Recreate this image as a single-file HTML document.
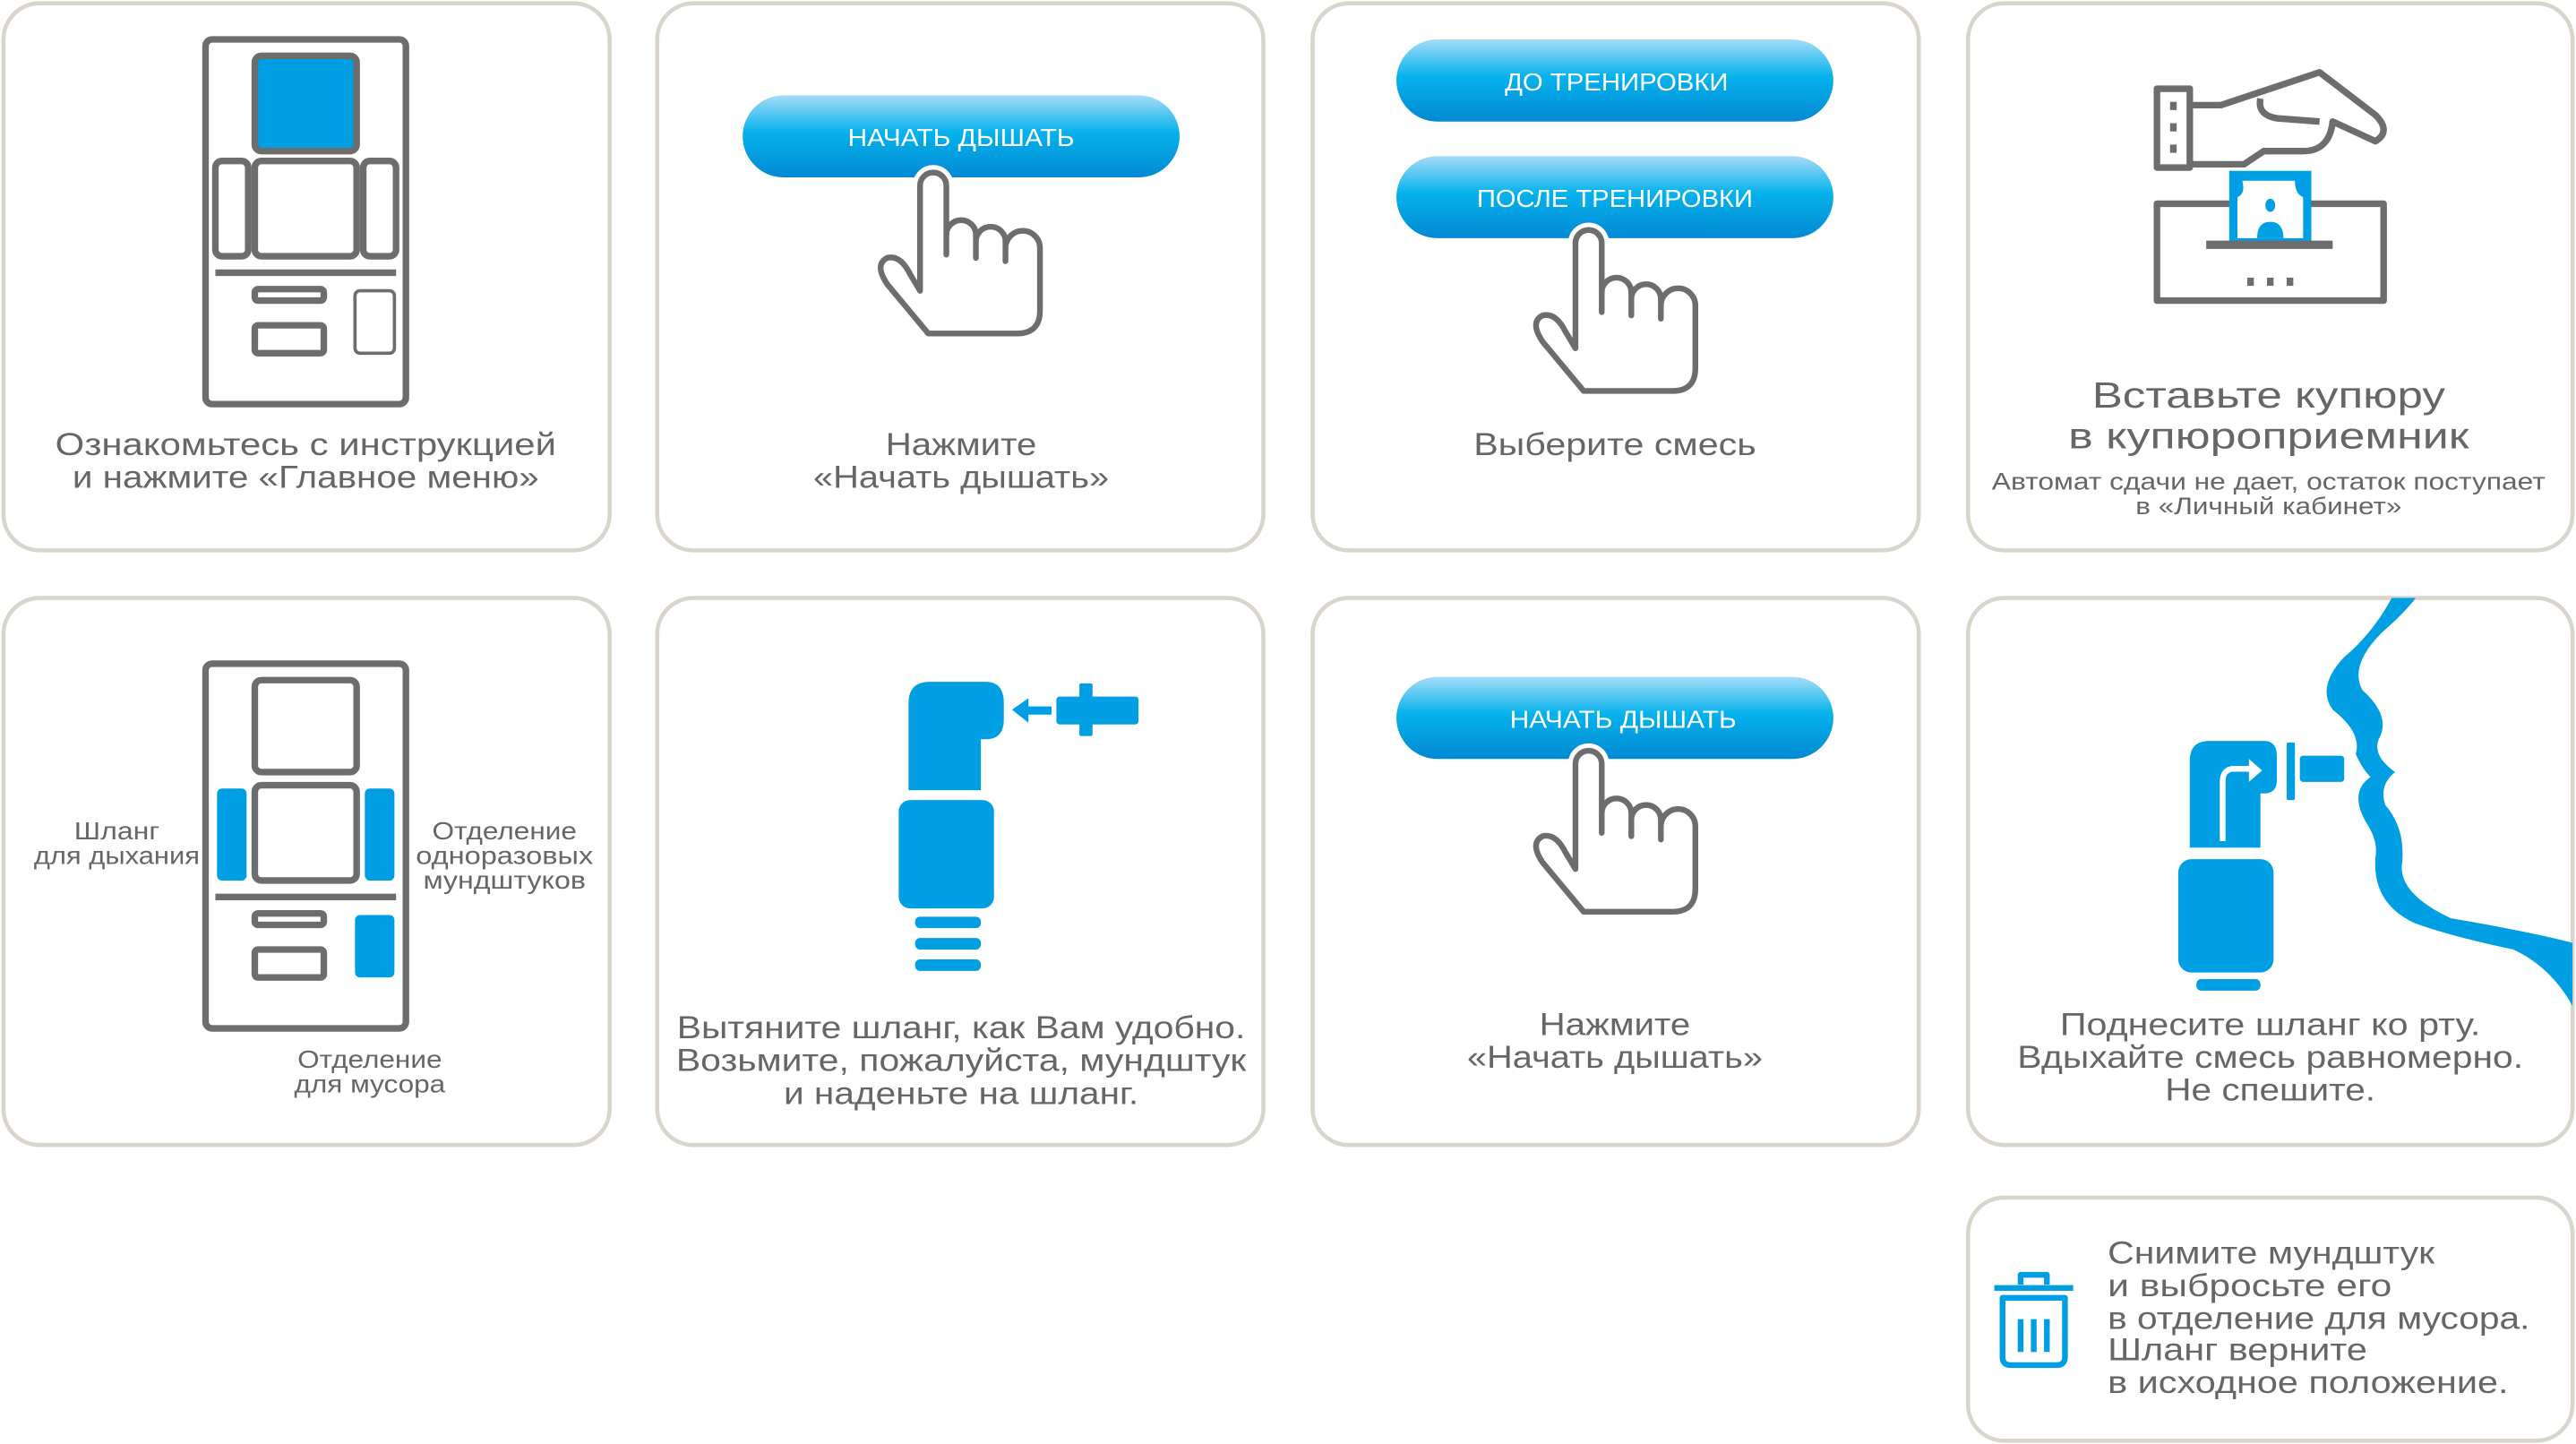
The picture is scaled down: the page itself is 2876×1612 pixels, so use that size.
<!DOCTYPE html>
<html><head><meta charset="utf-8"><style>html,body{margin:0;padding:0;background:#fff}svg{display:block}</style></head>
<body>
<svg xmlns="http://www.w3.org/2000/svg" width="2876" height="1612" viewBox="0 0 1568 879" font-family="Liberation Sans, sans-serif">
<defs>
<linearGradient id="bg" x1="0" y1="0" x2="0" y2="1">
<stop offset="0" stop-color="#a6dcf7"/><stop offset="0.45" stop-color="#05b2ec"/><stop offset="1" stop-color="#0289d3"/>
</linearGradient>
<clipPath id="c8"><rect x="1198" y="364" width="368" height="333" rx="22"/></clipPath>
<g id="hand">
<path d="M -8,72 L -8,8 A8 8 0 0 1 8,8 L 8,50 L 8,38 A9 9 0 0 1 26,38 L 26,52 L 26,42 A9 9 0 0 1 44,42 L 44,54 L 44,46 A10.5 10.5 0 0 1 65,46 L 65,84 Q65,98 51,98 L -3,98 L -28,68 Q -36,56 -28,52 Q -20,50 -14,62 Z" fill="#fff" stroke="#fff" stroke-width="9" stroke-linejoin="round"/>
<path d="M -8,72 L -8,8 A8 8 0 0 1 8,8 L 8,50 L 8,38 A9 9 0 0 1 26,38 L 26,52 L 26,42 A9 9 0 0 1 44,42 L 44,54 L 44,46 A10.5 10.5 0 0 1 65,46 L 65,84 Q65,98 51,98 L -3,98 L -28,68 Q -36,56 -28,52 Q -20,50 -14,62 Z" fill="#fff" stroke="#6d6d6d" stroke-width="3.5" stroke-linejoin="round"/>
</g>
</defs>
<g fill="#fff" stroke="#d9d5cc" stroke-width="2.5">
<rect x="2" y="2" width="369" height="333" rx="22"/>
<rect x="400" y="2" width="369" height="333" rx="22"/>
<rect x="799" y="2" width="369" height="333" rx="22"/>
<rect x="1198" y="2" width="368" height="333" rx="22"/>
<rect x="2" y="364" width="369" height="333" rx="22"/>
<rect x="400" y="364" width="369" height="333" rx="22"/>
<rect x="799" y="364" width="369" height="333" rx="22"/>
<rect x="1198" y="364" width="368" height="333" rx="22"/>
<rect x="1198" y="729" width="368" height="148" rx="22"/>
</g>

<!-- card1 kiosk -->
<g fill="none" stroke="#6d6d6d" stroke-width="4">
<rect x="125" y="24" width="122" height="222" rx="4"/>
<rect x="155" y="34" width="62" height="58" rx="4" fill="#009fe3"/>
<rect x="131" y="98" width="20" height="58" rx="4"/>
<rect x="155" y="98" width="62" height="58" rx="4"/>
<rect x="221" y="98" width="20" height="58" rx="4"/>
<line x1="131" y1="166" x2="241" y2="166"/>
<rect x="155" y="176" width="42" height="7" rx="2"/>
<rect x="155" y="198" width="42" height="17" rx="2"/>
<rect x="216" y="177" width="24" height="38" rx="3" stroke-width="2"/>
</g>
<g fill="#666" font-size="19" text-anchor="middle">
<text x="186" y="277" textLength="305" lengthAdjust="spacingAndGlyphs">Ознакомьтесь с инструкцией</text>
<text x="186" y="297" textLength="284" lengthAdjust="spacingAndGlyphs">и нажмите «Главное меню»</text>
</g>

<!-- card2 -->
<rect x="452" y="58" width="266" height="50" rx="25" fill="url(#bg)"/>
<text x="585" y="89" fill="#fff" font-size="15" text-anchor="middle" textLength="138" lengthAdjust="spacingAndGlyphs">НАЧАТЬ ДЫШАТЬ</text>
<use href="#hand" x="568" y="105"/>
<g fill="#666" font-size="19" text-anchor="middle">
<text x="585" y="277" textLength="92" lengthAdjust="spacingAndGlyphs">Нажмите</text>
<text x="585" y="297" textLength="180" lengthAdjust="spacingAndGlyphs">«Начать дышать»</text>
</g>

<!-- card3 -->
<rect x="850" y="24" width="266" height="50" rx="25" fill="url(#bg)"/>
<text x="984" y="55" fill="#fff" font-size="15" text-anchor="middle" textLength="136" lengthAdjust="spacingAndGlyphs">ДО ТРЕНИРОВКИ</text>
<rect x="850" y="95" width="266" height="50" rx="25" fill="url(#bg)"/>
<text x="983" y="126" fill="#fff" font-size="15" text-anchor="middle" textLength="168" lengthAdjust="spacingAndGlyphs">ПОСЛЕ ТРЕНИРОВКИ</text>
<use href="#hand" x="967" y="140"/>
<text x="983" y="277" fill="#666" font-size="19" text-anchor="middle" textLength="172" lengthAdjust="spacingAndGlyphs">Выберите смесь</text>

<!-- card4 -->
<g fill="none" stroke="#6d6d6d" stroke-width="4" stroke-linejoin="round">
<rect x="1313" y="54" width="20" height="48"/>
<path d="M1333,64 L1352,64 L1412,44 L1446,70 Q1456,80 1446,86 L1420,74 Q1418,92 1402,92 L1378,92 L1366,100 L1333,100"/>
<path d="M1376,60 Q1374,70 1386,72 L1412,74"/>
<rect x="1313" y="124" width="138" height="59"/>
</g>
<g fill="#6d6d6d"><rect x="1321" y="62" width="4" height="5"/><rect x="1321" y="75" width="4" height="5"/><rect x="1321" y="88" width="4" height="5"/></g>
<rect x="1357" y="104" width="50" height="45" fill="#009fe3"/>
<path d="M1365,110 L1397,110 Q1397,118 1402,120 L1402,145 L1362,145 L1362,120 Q1367,118 1365,110Z" fill="#fff"/>
<ellipse cx="1382" cy="125" rx="3" ry="4" fill="#009fe3"/>
<path d="M1374,145 Q1374,135 1382,135 Q1390,135 1390,145Z" fill="#009fe3"/>
<line x1="1343" y1="149" x2="1420" y2="149" stroke="#6d6d6d" stroke-width="5"/>
<g fill="#6d6d6d"><rect x="1368" y="169" width="4" height="5"/><rect x="1380" y="169" width="4" height="5"/><rect x="1392" y="169" width="4" height="5"/></g>
<g fill="#666" text-anchor="middle">
<text x="1381" y="248" font-size="22" textLength="215" lengthAdjust="spacingAndGlyphs">Вставьте купюру</text>
<text x="1381" y="273" font-size="22" textLength="244" lengthAdjust="spacingAndGlyphs">в купюроприемник</text>
<text x="1381" y="298" font-size="14.5" textLength="337" lengthAdjust="spacingAndGlyphs">Автомат сдачи не дает, остаток поступает</text>
<text x="1381" y="313" font-size="14.5" textLength="162" lengthAdjust="spacingAndGlyphs">в «Личный кабинет»</text>
</g>

<!-- card5 kiosk -->
<g fill="none" stroke="#6d6d6d" stroke-width="4">
<rect x="125" y="404" width="122" height="222" rx="4"/>
<rect x="155" y="414" width="62" height="56" rx="4"/>
<rect x="155" y="478" width="62" height="58" rx="4"/>
<line x1="131" y1="546" x2="241" y2="546"/>
<rect x="155" y="556" width="42" height="7" rx="2"/>
<rect x="155" y="578" width="42" height="17" rx="2"/>
</g>
<g fill="#009fe3">
<rect x="132" y="480" width="18" height="56" rx="3"/>
<rect x="222" y="480" width="18" height="56" rx="3"/>
<rect x="216" y="557" width="24" height="38" rx="3"/>
</g>
<g fill="#666" font-size="15" text-anchor="middle">
<text x="71" y="511" textLength="52" lengthAdjust="spacingAndGlyphs">Шланг</text>
<text x="71" y="526" textLength="101" lengthAdjust="spacingAndGlyphs">для дыхания</text>
<text x="307" y="511" textLength="88" lengthAdjust="spacingAndGlyphs">Отделение</text>
<text x="307" y="526" textLength="108" lengthAdjust="spacingAndGlyphs">одноразовых</text>
<text x="307" y="541" textLength="99" lengthAdjust="spacingAndGlyphs">мундштуков</text>
<text x="225" y="650" textLength="88" lengthAdjust="spacingAndGlyphs">Отделение</text>
<text x="225" y="665" textLength="92" lengthAdjust="spacingAndGlyphs">для мусора</text>
</g>

<!-- card6 hose -->
<g fill="#009fe3">
<path d="M553,428 Q553,415 566,415 L600,415 Q611,415 611,428 L611,438 Q611,450 600,450 L597,450 L597,481 L553,481Z"/>
<rect x="547" y="487" width="58" height="66" rx="7"/>
<rect x="557" y="558" width="40" height="7" rx="3"/>
<rect x="557" y="571" width="40" height="7" rx="3"/>
<rect x="557" y="584" width="40" height="7" rx="3"/>
<path d="M616,432 L626,425 L626,430 L640,430 L640,435 L626,435 L626,440Z"/>
<rect x="643" y="424" width="50" height="17" rx="2"/>
<rect x="657" y="416" width="8" height="32" rx="1"/>
</g>
<g fill="#666" font-size="19" text-anchor="middle">
<text x="585" y="632" textLength="346" lengthAdjust="spacingAndGlyphs">Вытяните шланг, как Вам удобно.</text>
<text x="585" y="652" textLength="347" lengthAdjust="spacingAndGlyphs">Возьмите, пожалуйста, мундштук</text>
<text x="585" y="672" textLength="216" lengthAdjust="spacingAndGlyphs">и наденьте на шланг.</text>
</g>

<!-- card7 -->
<rect x="850" y="412" width="266" height="50" rx="25" fill="url(#bg)"/>
<text x="988" y="443" fill="#fff" font-size="15" text-anchor="middle" textLength="138" lengthAdjust="spacingAndGlyphs">НАЧАТЬ ДЫШАТЬ</text>
<use href="#hand" x="967" y="457"/>
<g fill="#666" font-size="19" text-anchor="middle">
<text x="983" y="630" textLength="92" lengthAdjust="spacingAndGlyphs">Нажмите</text>
<text x="983" y="650" textLength="180" lengthAdjust="spacingAndGlyphs">«Начать дышать»</text>
</g>

<!-- card8 -->
<g clip-path="url(#c8)">
<path d="M1457,362 Q1445,385 1427,400 Q1410,418 1420,432 Q1438,446 1434,459 Q1438,468 1443,473 Q1430,482 1440,500 Q1448,512 1446,522 Q1444,550 1470,562 Q1492,570 1530,578 Q1556,590 1570,620 L1570,575 Q1545,568 1492,559 Q1462,545 1462,528 Q1465,505 1452,490 Q1448,478 1458,470 Q1444,460 1448,450 Q1456,436 1438,420 Q1430,405 1450,385 Q1465,372 1472,362 Z" fill="#009fe3"/>
</g>
<g fill="#009fe3">
<path d="M1333,463 Q1333,451 1345,451 L1378,451 Q1386,451 1386,460 L1386,475 Q1386,483 1378,483 L1376,483 L1376,516 L1333,516Z"/>
<rect x="1392" y="452" width="5" height="35" rx="1"/>
<rect x="1400" y="460" width="27" height="16" rx="2"/>
<rect x="1326" y="523" width="58" height="69" rx="8"/>
<rect x="1337" y="596" width="39" height="7" rx="3"/>
</g>
<path d="M1353,512 L1353,476 Q1353,468 1360,468 L1370,468" fill="none" stroke="#fff" stroke-width="3.5"/>
<path d="M1369,462 L1377,469 L1369,476Z" fill="#fff"/>
<g fill="#666" font-size="19" text-anchor="middle">
<text x="1382" y="630" textLength="256" lengthAdjust="spacingAndGlyphs">Поднесите шланг ко рту.</text>
<text x="1382" y="650" textLength="308" lengthAdjust="spacingAndGlyphs">Вдыхайте смесь равномерно.</text>
<text x="1382" y="670" textLength="128" lengthAdjust="spacingAndGlyphs">Не спешите.</text>
</g>

<!-- card9 trash -->
<g fill="none" stroke="#009fe3" stroke-width="3.5" stroke-linejoin="round">
<path d="M1230,782 L1230,776 L1246,776 L1246,782"/>
<line x1="1214" y1="784" x2="1262" y2="784"/>
<path d="M1219,790 L1219,826 Q1219,831 1224,831 L1252,831 Q1257,831 1257,826 L1257,790Z"/>
<line x1="1230" y1="803" x2="1230" y2="823"/>
<line x1="1238" y1="803" x2="1238" y2="823"/>
<line x1="1246" y1="803" x2="1246" y2="823"/>
</g>
<g fill="#666" font-size="19">
<text x="1283" y="769" textLength="199" lengthAdjust="spacingAndGlyphs">Снимите мундштук</text>
<text x="1283" y="789" textLength="173" lengthAdjust="spacingAndGlyphs">и выбросьте его</text>
<text x="1283" y="809" textLength="257" lengthAdjust="spacingAndGlyphs">в отделение для мусора.</text>
<text x="1283" y="828" textLength="158" lengthAdjust="spacingAndGlyphs">Шланг верните</text>
<text x="1283" y="848" textLength="244" lengthAdjust="spacingAndGlyphs">в исходное положение.</text>
</g>
</svg>
</body></html>
